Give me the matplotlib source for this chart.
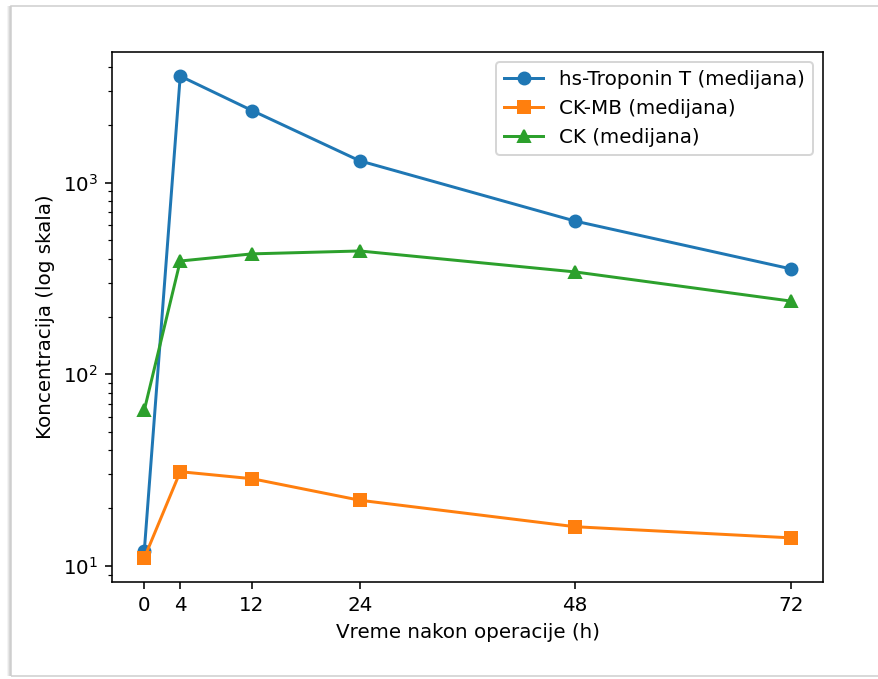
import matplotlib
matplotlib.use("Agg")
import matplotlib.pyplot as plt
from matplotlib.patches import Rectangle

# median concentrations over time after surgery
hours = [0, 4, 12, 24, 48, 72]
troponin = [12, 3600, 2380, 1300, 630, 355]
ck_mb = [11, 31, 28.5, 22, 16, 14]
ck = [65, 390, 425, 440, 342, 241]

W, H, DPI = 878, 679, 143
fig = plt.figure(figsize=(W / DPI, H / DPI), dpi=DPI)

# card border with a soft shadow on the left
for i, c in enumerate(["#f4f4f4", "#e6e6e6", "#d6d6d6", "#c8c8c8"]):
    fig.patches.append(Rectangle((7 + i, 3), 1, H - 9, transform=None,
                                 facecolor=c, edgecolor="none"))
fig.patches.append(Rectangle((11, 3), W, H - 9, transform=None, fill=False,
                             edgecolor="#d0d0d0", linewidth=0.8))

ax = fig.add_axes([112 / W, 1 - 582 / H, (823 - 112) / W, (582 - 52) / H])
ax.plot(hours, troponin, marker="o", label="hs-Troponin T (medijana)")
ax.plot(hours, ck_mb, marker="s", label="CK-MB (medijana)")
ax.plot(hours, ck, marker="^", label="CK (medijana)")
ax.set_yscale("log")
ax.set_xticks(hours)
ax.set_xlabel("Vreme nakon operacije (h)")
ax.set_ylabel("Koncentracija (log skala)")
ax.legend(loc="upper right")

fig.savefig("out.png", dpi=DPI)
